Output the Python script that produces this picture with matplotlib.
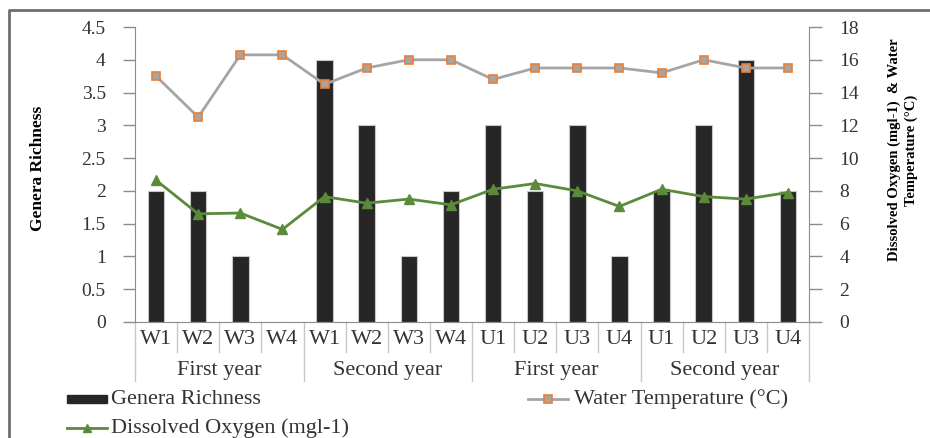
import numpy as np
import matplotlib
matplotlib.use("Agg")
import matplotlib.pyplot as plt
from matplotlib.lines import Line2D
from matplotlib.patches import Rectangle

# data
sites = ["W1", "W2", "W3", "W4", "W1", "W2", "W3", "W4",
         "U1", "U2", "U3", "U4", "U1", "U2", "U3", "U4"]
groups = ["First year", "Second year", "First year", "Second year"]
genera = [2, 2, 1, 0, 4, 3, 1, 2, 3, 2, 3, 1, 2, 3, 4, 2]
water_temp = [15.0, 12.5, 16.3, 16.3, 14.5, 15.5, 16.0, 16.0,
              14.8, 15.5, 15.5, 15.5, 15.2, 16.0, 15.5, 15.5]
dissolved_o2 = [8.65, 6.6, 6.65, 5.65, 7.65, 7.25, 7.5, 7.15,
                8.1, 8.45, 8.0, 7.05, 8.1, 7.65, 7.5, 7.9]

SERIF = ["Liberation Serif", "DejaVu Serif"]
plt.rcParams["font.family"] = SERIF
TXT = "#333333"
AXC = "#8c8c8c"
BAR = "#262626"
GREY = "#a5a5a5"
ORANGE = "#ed7d31"
GREEN = "#5a8a3a"

W, H = 930, 438
fig = plt.figure(figsize=(W / 100, H / 100), dpi=100)
L, R, T, B = 135, 809, 27, 322
ax = fig.add_axes([L / W, 1 - B / H, (R - L) / W, (B - T) / H])
ax2 = ax.twinx()

x = np.arange(len(sites))
ax.bar(x, genera, width=0.39, color=BAR, edgecolor="#c8c8c8", linewidth=0.8, zorder=2)
ax.set_xlim(-0.5, len(sites) - 0.5)
ax.set_ylim(0, 4.5)
ax.set_yticks(np.arange(0, 4.51, 0.5))
ax.set_yticklabels(["0", "0.5", "1", "1.5", "2", "2.5", "3", "3.5", "4", "4.5"])

ax2.plot(x, water_temp, color=GREY, lw=2, marker="s", ms=6,
         mfc=GREY, mec=ORANGE, mew=1.2, zorder=3)
ax2.plot(x, dissolved_o2, color=GREEN, lw=2, marker="^", ms=7,
         mfc=GREEN, mec=GREEN, zorder=3)
ax2.set_ylim(0, 18)
ax2.set_yticks(np.arange(0, 18.1, 2))

for a in (ax, ax2):
    for s in a.spines.values():
        s.set_visible(False)
    a.tick_params(axis="y", colors=AXC, labelcolor=TXT, labelsize=14,
                  length=9, width=1)
ax.spines["left"].set_visible(True)
ax.spines["left"].set_color(AXC)
ax2.spines["right"].set_visible(True)
ax2.spines["right"].set_color(AXC)
ax.spines["bottom"].set_visible(True)
ax.spines["bottom"].set_color(AXC)
ax.tick_params(axis="y", pad=12)
ax2.tick_params(axis="y", pad=13)
ax.set_xticks([])

# two-level category axis
tr = ax.get_xaxis_transform()
ph = B - T
for i in range(len(sites) + 1):
    edge = i - 0.5
    low = 381 if i % 4 == 0 else 352
    ax.plot([edge, edge], [0, (B - low) / ph], transform=tr, color="#c8c8c8",
            lw=1, clip_on=False)
for xi, s in zip(x, sites):
    ax.text(xi, (B - 339) / ph, s, transform=tr, ha="center", va="center",
            fontsize=16, color=TXT)
for gi, g in enumerate(groups):
    ax.text(gi * 4 + 1.5, (B - 371) / ph, g, transform=tr, ha="center",
            va="center", fontsize=16, color=TXT)

ax.set_ylabel("Genera Richness", fontsize=12.5, fontweight="bold", color="black")
ax.yaxis.set_label_coords((46 - L) / (R - L), 0.52)
fig.text(903 / W, 1 - 150 / H, "Dissolved Oxygen (mgl-1)  & Water\nTemperature (°C)",
         rotation=90, ha="center", va="center", multialignment="center",
         fontsize=10.5, fontweight="bold", linespacing=1.3)

# legend
def fx(px):
    return px / W


def fy(py):
    return 1 - py / H


fig.add_artist(Rectangle((fx(67), fy(403)), fx(107) - fx(67), fy(395) - fy(403),
                         transform=fig.transFigure, facecolor=BAR, edgecolor=BAR))
fig.text(fx(111), fy(399), "Genera Richness", ha="left", va="center",
         fontsize=16, color=TXT)
fig.add_artist(Line2D([fx(528), fx(568)], [fy(399), fy(399)], transform=fig.transFigure,
                      color=GREY, lw=2))
fig.add_artist(Line2D([fx(548)], [fy(399)], transform=fig.transFigure, marker="s",
                      ms=6, mfc=GREY, mec=ORANGE, mew=1.2))
fig.text(fx(574), fy(399), "Water Temperature (°C)", ha="left", va="center",
         fontsize=16, color=TXT)
fig.add_artist(Line2D([fx(67), fx(107)], [fy(428), fy(428)], transform=fig.transFigure,
                      color=GREEN, lw=2))
fig.add_artist(Line2D([fx(87)], [fy(428)], transform=fig.transFigure, marker="^",
                      ms=6, mfc=GREEN, mec=GREEN))
fig.text(fx(111), fy(428), "Dissolved Oxygen (mgl-1)", ha="left", va="center",
         fontsize=16, color=TXT)

# outer frame (left and top edges visible)
fig.add_artist(Line2D([fx(9), fx(9), fx(930)], [fy(438), fy(10), fy(10)],
                      transform=fig.transFigure, color="#6e6e6e", lw=2))

fig.savefig("out.png", dpi=100, facecolor="white")
